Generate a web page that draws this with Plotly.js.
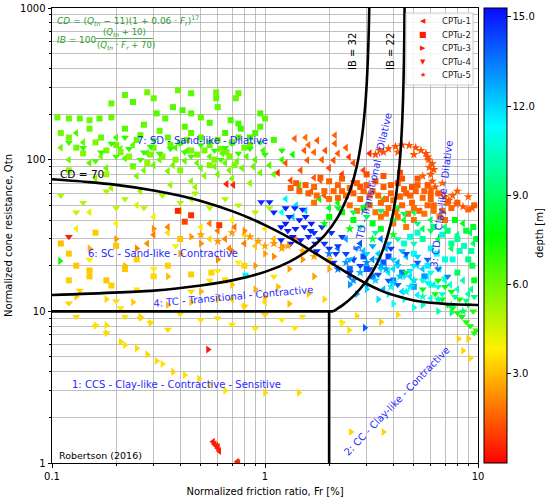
<!DOCTYPE html>
<html>
<head>
<meta charset="utf-8">
<script src="https://cdn.plot.ly/plotly-3.0.1.min.js"></script>
<style>html,body{margin:0;padding:0;background:#fff;}#chart{width:550px;height:499px;}</style>
</head>
<body>
<div id="chart"></div>
<script>
// ---------------- DATA (Fr [%], Qtn, depth [m]) ----------------
const seriesNames = ['CPTu-1', 'CPTu-2', 'CPTu-3', 'CPTu-4', 'CPTu-5'];

const cptu1 = [
  [1.38,138,1.6],[1.55,140,1.7],[1.76,134,1.5],[2.13,145,1.6],[2.13,128,1.5],[1.53,115,1.4],[1.70,112,1.5],[1.92,115,1.3],
  [1.58,99,1.4],[2.10,99,1.2],[2.48,104,1.1],[3.10,110,0.6],[1.47,85,1.3],[1.15,82,0.5],[1.32,73,1.2],[1.70,76,1.4],
  [1.82,73,1.5],[1.25,95,1.3],[2.00,88,1.2],[2.30,80,1.0],[1.65,62,1.3],[1.90,58,1.4],[2.60,72,1.2],[1.45,66,1.4],
  [2.2,110,1.4],[2.6,95,1.3],[2.9,85,1.2],[1.6,125,1.6],[1.85,100,1.4],[2.4,120,1.5],
  [0.57,1.38,0.4],[0.58,1.33,0.4],[0.59,1.30,0.5],[0.60,1.25,0.5],[0.61,1.20,0.5],[0.60,1.28,0.45],[0.74,1.02,0.6],[0.75,1.00,0.6],
  [0.66,69,0.5],[0.71,68,0.6],
  [0.15,95,6.2],[0.18,88,6.0],[0.22,102,6.3],[0.25,78,5.8],[0.28,110,6.4],[0.30,92,6.1],[0.35,84,5.9],[0.38,120,6.5],
  [0.42,98,6.2],[0.45,72,5.6],[0.50,88,6.0],[0.55,105,6.3],[0.60,80,5.9],[0.65,95,6.1],[0.70,75,5.7],[0.78,88,6.0],
  [0.85,70,5.5],[0.90,100,6.4],[0.95,82,5.9],[1.05,92,6.5],[1.20,100,7.0],[1.35,108,7.5],[0.13,150,6.6],[0.20,140,6.6],[0.12,100,6.0],
  [0.11,120,6.0],[0.14,130,6.2],[0.17,105,5.9],[0.21,118,6.1],[0.24,125,6.3],[0.27,85,5.7],[0.32,100,6.0],[0.37,92,5.9],
  [0.43,115,6.2],[0.48,95,6.0],[0.52,78,5.6],[0.58,90,5.9],[0.63,110,6.2],[0.68,85,5.8],[0.74,98,6.0],[0.82,105,6.3],
  [0.88,90,6.0],[0.98,115,6.6],[1.10,80,6.2],[0.16,75,5.5],[0.19,65,5.2],[0.26,62,5.3],[0.36,68,5.4],[0.47,66,5.3],
  [0.15,45,4.2],[0.20,38,3.8],[0.25,50,4.5],[0.30,42,4.0],[0.35,33,3.5],[0.40,46,4.3],[0.50,36,3.7],[0.55,30,3.3],
  [0.70,40,3.9],[0.80,32,3.4],[0.90,27,3.2],[1.00,35,3.6],[1.10,30,3.0],[0.13,35,4.0],[0.45,55,4.8],
  [0.55,38,2.0],[0.60,34,1.9],[0.65,30,2.1],[0.72,36,1.8],[0.80,28,2.0],[0.68,26,2.2],[0.30,32,2.0],[0.35,36,2.1],[0.28,28,2.3],
  [1.25,55,11.5],[1.40,50,11.8],[1.55,46,12.0],[1.20,45,11.2],[1.70,52,11.0],[1.35,42,12.3],
  [1.60,60,8.0],[1.80,55,7.8],[2.00,48,8.2],[2.20,52,7.5],[1.45,68,7.0],
  [2.2,26,13.5],[2.6,22,13.0],[3.0,20,12.5],[3.4,24,12.0],[3.8,18,11.5],[4.2,21,12.8],[4.8,17,11.8],[5.5,19,12.2],
  [6.2,15,11.0],[2.8,28,14.0],[3.5,30,13.5],[7.0,16,11.3],[8.0,14,10.5],[9.0,13,10.0],
  [2.4,30,12.8],[2.9,25,12.3],[3.2,22,13.2],[3.7,26,12.6],[4.0,19,11.8],[4.6,23,12.4],[5.2,20,11.6],[5.8,17,11.2],
  [6.6,19,11.5],[7.4,15,10.8],[8.5,16,10.2],[9.3,14,9.8],[2.5,17,13.8],[3.0,15,13.0],[3.6,14,12.5],[4.4,13.5,12.0],
  [5.2,12.8,11.5],[6.0,12.2,11.0],
  [5.5,35,8.5],[6.5,30,8.8],[7.5,26,9.0],[8.5,38,8.0],[9.5,28,9.2],[4.5,40,8.3],
  [3.0,50,8.6],[3.6,55,8.0],[4.2,48,8.4],[5.0,45,8.8],[6.0,40,9.0],[7.0,36,9.3],[8.0,32,9.5],[9.2,33,9.0],
  [1.00,11.5,3.5],[0.70,12,3.2]
];

const cptu2 = [
  [0.22,267,6.2],[0.28,278,6.0],[0.39,287,6.1],[0.45,274,6.3],[0.59,278,6.0],[0.75,274,6.2],[0.24,240,6.4],[0.19,235,6.1],
  [0.106,190,6.0],[0.12,187,6.1],[0.135,187,6.2],[0.15,182,6.0],[0.167,187,6.3],[0.19,190,6.1],[0.31,202,6.4],[0.34,187,6.2],
  [0.41,212,6.5],[0.45,202,6.3],[0.50,190,6.2],[0.37,222,6.4],[0.60,222,6.3],[0.69,182,6.5],[0.75,173,6.6],[0.30,254,6.1],
  [0.59,254,6.2],[0.73,254,6.0],[0.95,202,6.5],[1.00,187,6.3],[0.77,160,6.7],[0.27,170,6.2],[0.22,160,6.3],[0.42,165,6.4],
  [0.55,175,6.5],[0.65,150,6.6],[0.85,140,6.8],[0.12,140,5.9],[0.16,130,5.8],[0.20,125,6.0],[0.25,135,6.1],[0.30,120,5.9],
  [0.35,140,6.2],[0.40,130,6.0],[0.45,115,5.8],[0.50,140,6.3],[0.55,125,6.1],[0.62,118,5.9],[0.70,130,6.2],[0.80,120,6.0],
  [0.90,150,6.5],[1.10,135,6.6],[0.14,110,5.7],[0.18,115,5.8],[0.23,105,5.6],[0.28,95,5.5],[0.33,105,5.7],[0.38,100,5.6],
  [0.48,108,5.8],[0.58,100,5.7],[0.68,105,5.8],[0.15,160,6.0],[0.45,150,6.2],[0.32,155,6.1],
  [0.11,150,6.0],[0.13,120,5.9],[0.17,140,6.1],[0.21,112,5.8],[0.26,145,6.2],[0.29,108,5.8],[0.36,125,6.0],[0.43,135,6.1],
  [0.52,115,5.9],[0.60,135,6.2],[0.66,112,5.9],[0.75,140,6.3],[0.85,125,6.1],[0.95,165,6.5],[0.24,90,5.5],[0.40,85,5.6],
  [0.55,92,5.7],[0.72,92,5.8],[0.12,85,5.4],[0.18,80,5.3],
  [0.12,24,3.2],[0.12,16,3.3],[0.15,17,3.2],[0.18,16,3.1],[0.19,14.8,3.3],[0.15,18.6,3.2],[0.56,18,3.4],[0.45,17.5,3.3],
  [0.13,20,3.1],[0.22,19,3.2],[0.25,22,3.3],[0.30,17,3.4],[0.11,28,3.0],[0.20,27,3.2],[0.35,20,3.3],[0.65,16,3.5],
  [0.80,20,3.4],[0.40,30,3.1],[0.16,33,3.2],
  [0.39,46,0.5],[0.45,43,0.7],[0.61,37,0.8],[0.42,39,1.0],
  [1.32,65,1.5],[1.45,62,1.6],[1.60,60,1.5],[1.75,58,1.7],[1.90,62,1.6],[1.40,70,1.4],[1.55,68,1.5],[1.70,66,1.6],
  [1.82,76,1.4],[2.00,72,1.5],[2.20,68,1.6],[2.50,65,1.7],[2.30,75,1.4],[2.70,70,1.5],[2.90,62,1.6],[3.10,58,1.7],
  [3.30,72,1.4],[3.60,66,1.5],[3.90,60,1.6],[4.20,70,1.4],[4.50,64,1.5],[4.80,58,1.6],[5.10,62,1.5],[5.50,56,1.7],
  [5.80,50,1.6],[6.20,46,1.7],[6.60,42,1.8],[7.00,40,1.7],[3.50,52,1.6],[3.80,48,1.7],[4.10,45,1.8],[4.40,50,1.6],
  [4.70,44,1.7],[5.00,40,1.8],[5.30,46,1.6],[4.00,38,1.8],[4.60,36,1.9],[3.30,45,1.8],[2.80,55,1.6],[2.50,50,1.7],
  [2.20,56,1.6],[3.00,80,1.2],[3.60,78,1.3],[4.30,82,1.2],[5.20,75,1.3],[5.80,68,1.4],[6.50,60,1.5],[2.00,55,1.7],
  [1.70,52,1.8],[3.50,42,1.8],[4.90,52,1.6],[6.00,55,1.5],[7.50,48,1.6],[8.00,52,1.5],[9.00,47,1.6],[9.60,50,1.5],
  [2.1,62,1.6],[2.4,58,1.7],[2.6,60,1.5],[2.8,66,1.4],[3.0,68,1.5],[3.2,62,1.6],[3.4,58,1.7],[3.7,55,1.6],
  [4.0,54,1.7],[4.3,57,1.6],[4.6,60,1.5],[4.9,66,1.4],[5.2,68,1.5],[5.6,62,1.6],[6.0,60,1.5],[3.9,68,1.4],
  [4.4,75,1.3],[3.1,50,1.8],[3.7,44,1.8],[4.2,42,1.9],[5.0,48,1.7],[5.6,44,1.8],[6.2,50,1.6],[6.8,46,1.7],
  [7.2,52,1.6],[2.7,46,1.8],[2.3,62,1.6],
  [6.8,32,10.5],[7.5,28,9.8],[8.2,25,10.2],[9.0,22,9.5],[9.4,20,8.8],[7.0,22,10.8],[6.0,26,11.0],[5.5,30,10.0],
  [8.8,34,8.5],[9.5,36,8.2],[5.0,24,11.2],[4.5,28,10.6],[8.0,18,9.0],[9.6,16,8.0],
  [5.2,33,10.5],[6.2,36,9.6],[7.2,34,9.2],[8.0,30,9.8],[8.6,27,10.4],[9.3,25,10.0],[6.4,24,11.3],[7.6,22,10.9],
  [5.8,20,11.6],[4.8,31,10.8],[9.8,30,8.6],[7.8,40,8.0],
  [0.81,17.2,11.5],
  [2.3,45,7.5],[2.6,40,7.8],[2.9,48,7.2],[3.2,38,8.0],[2.0,42,7.6],[3.5,35,8.2],
  [2.5,19,13.8],[3.2,17,13.5],[4.0,16,13.2],[5.0,14.5,12.8],[3.6,21,14.0],[2.9,23,14.2],
  [3.0,19,14.0],[4.4,18,13.6],[5.6,17,13.0],[3.8,23,14.3]
];

const cptu3 = [
  [0.21,6.3,3.5],[0.22,6.0,3.6],[0.25,5.7,3.5],[0.28,5.2,3.4],[0.31,4.7,3.5],[0.33,4.5,3.6],[0.37,4.0,3.4],[0.49,3.6,3.5],
  [0.16,8.1,3.6],[0.18,8.1,3.5],[0.18,7.2,3.4],[0.26,9.2,3.3],[0.29,8.4,3.5],[1.00,2.9,3.5],[1.44,2.9,3.5],[2.53,1.6,3.4],
  [3.60,1.6,3.4],[0.42,3.8,3.6],[0.55,3.3,3.7],[0.65,3.0,3.6],[0.13,12.5,3.3],[0.18,12,3.4],[0.24,11.5,3.2],
  [0.54,5.6,0.4],
  [0.109,21.5,7.5],
  [0.35,11,3.0],[0.45,11.5,3.2],[0.60,12,3.1],[0.80,10.8,3.3],[1.00,12.5,2.9],[1.30,11.2,3.0],[1.60,13,3.2],[1.90,12,3.4],
  [0.90,14,2.8],[0.50,13.5,2.9],
  [0.20,30,2.4],[0.25,26,2.2],[0.40,24,2.5],[0.50,28,2.3],[0.60,22,2.1],[0.70,25,2.0],[0.90,20,2.4],[1.10,23,2.2],
  [1.30,19,2.5],[1.50,22,2.3],[1.70,17,2.6],[2.00,19,2.8],[1.20,27,2.1],
  [0.30,35,2.3],[0.45,31,2.4],[0.80,34,2.2],[1.00,24,2.5],[1.40,30,2.2],[0.35,17,3.0],[0.70,15,3.1],[1.15,14.5,3.0],
  [0.15,26,2.9],[0.22,20,3.0],
  [8.1,6.6,3.3],[9.2,4.9,3.5],[9.0,6.6,3.2],[8.5,5.5,3.4],
  [2.94,7.8,14.0],[3.0,14,12.0],[3.8,13,11.5],[4.5,12,11.0],[5.5,11,10.5],[2.5,15,13.0],[6.5,10,10.0],
  [3.4,12,11.8],[4.0,11.2,11.2],[5.0,10.6,10.8],[7.5,9.8,9.5],[2.7,13,12.6],
  [2.7,9.3,3.5],[2.3,8.4,3.4],[2.48,7.5,3.6],[3.5,8.5,3.3],[4.2,9.5,3.5]
];

const cptu4 = [
  [0.96,52.6,14.8],[1.05,52.6,14.9],[1.25,48,15.0],[1.38,48,14.8],[1.50,47,14.7],[1.19,36,15.1],[1.28,34,15.0],[1.39,35,14.9],
  [1.53,36,15.0],[1.64,34,14.8],[1.32,28,15.2],[1.47,29.5,15.0],[1.19,29.5,14.9],[1.60,31,14.8],[1.70,33,14.7],[1.80,30,14.9],
  [1.45,40,15.0],[1.30,42,14.8],[1.90,28,14.6],[2.00,26,14.7],[2.20,27,14.5],[1.75,25,14.8],[2.40,24,14.4],[2.60,22,14.5],
  [2.10,21,14.6],[2.80,20,14.3],[3.10,19,14.2],[2.50,18,14.4],[3.40,17.5,14.1],[3.80,16,14.0],[4.20,15,13.8],
  [1.55,42,14.9],[1.65,38,15.0],[1.85,36,14.8],[2.05,33,14.7],[2.30,31,14.6],[1.35,31,15.1],[1.25,38,15.0],[1.10,45,14.9],
  [1.72,28,14.8],[2.15,24,14.6],
  [0.13,9.2,3.5],[0.22,9.2,3.6],[0.26,9.0,3.4],[0.29,8.4,3.5],[0.16,8.0,3.6],[0.18,7.2,3.5],[0.12,11.3,3.3],[0.135,13.7,3.4],
  [0.20,11.7,3.5],[0.21,10.5,3.6],[0.90,7.7,3.7],[1.38,7.8,3.6],[2.30,8.4,3.8],[0.60,9.0,3.5],[0.70,8.2,3.6],[1.00,9.5,3.4],
  [1.20,8.8,3.7],[0.50,8.8,3.5],[0.40,9.6,3.6],[0.35,7.6,3.5],[0.80,10.8,3.4],[1.50,9.2,3.6],[0.25,14,3.7],[0.45,13.5,3.5],
  [0.30,19,3.8],[0.55,16,3.6],[0.38,27,3.9],[0.60,18.5,3.7],[0.75,21,3.8],[1.10,17,3.6],[0.15,22,4.0],
  [0.12,31,0.5],
  [6.3,13,7.5],[6.8,12,7.6],[7.2,11,7.4],[7.6,10.5,7.5],[8.0,9.8,7.3],[8.4,9.2,7.4],[8.8,8.5,7.2],[9.2,8.0,7.3],
  [9.6,7.2,7.1],[6.0,15,7.8],[6.5,16,7.7],[7.0,14.5,7.6],[7.5,13.5,7.5],[8.2,12,7.4],[9.0,11,7.3],[9.5,10,7.2],
  [5.5,14,7.9],[5.0,16,8.0],[4.6,18,8.2],[9.8,7.5,7.1],
  [0.14,120,6.8],[0.17,112,6.7],[0.20,105,6.6],[0.23,118,6.9],[0.26,100,6.5],[0.19,128,6.9],[0.29,122,7.0],[0.32,110,6.8],
  [0.36,118,6.9],[0.42,112,6.7],[0.50,125,7.0],[0.58,115,6.8],[0.65,120,6.9],[0.75,110,6.7],[0.85,118,7.0],[0.16,98,6.4],
  [0.24,92,6.3],[0.30,135,7.1],[1.00,108,7.0],[1.20,115,7.2],
  [0.12,130,6.8],[0.22,140,7.0],[0.27,112,6.8],[0.40,128,6.9],[0.45,105,6.7],[0.55,132,7.0],[0.70,128,7.1],[0.95,130,7.2],[0.62,100,6.6],
  [0.11,58,5.0],[0.14,52,4.9],[0.18,62,5.1],[0.22,55,5.0],[0.27,48,4.8],[0.33,58,5.1],[0.40,52,5.0],[0.47,60,5.2],
  [0.55,48,4.9],[0.65,55,5.0],[0.75,50,4.9],[0.90,45,4.8],[1.05,48,5.0],[0.13,45,4.7],[0.20,48,4.8],
  [2.2,48,8.5],[2.6,45,8.8],[3.0,42,9.0],[3.5,46,9.2],[4.0,40,8.6],[4.5,44,9.0],[5.2,38,9.4],[6.0,34,9.0],
  [2.8,36,9.5],[3.3,33,9.8],[4.2,30,10.0],[5.0,28,10.2],
  [2.5,22,12.5],[3.0,24,12.0],[3.5,19,11.8],[4.0,22,12.2],[4.5,17,11.5],[5.0,20,11.8],[5.5,16,11.2],[6.0,18,11.0],
  [6.5,14.5,10.8],[7.0,16.5,10.5],[3.2,27,12.8],[3.8,28,12.6],[4.4,25,12.4],[5.2,23,12.0],
  [2.7,26,12.6],[3.4,22,12.3],[4.2,20,12.0],[4.8,18.5,11.6],[5.8,15.5,11.0],[6.8,13,10.6],[7.8,12.5,10.0],[8.8,11.8,9.6],[9.6,12.5,9.3],
  [4.6,24,14.2],[5.2,21,14.0],[5.8,22,13.8],[6.5,19,13.5],[7.2,17,13.2],[3.9,26,14.5]
];

const cptu5 = [
  [3.45,115,1.3],[3.80,118,1.2],[4.10,122,1.3],[4.40,125,1.2],[4.75,124,1.3],[5.10,120,1.2],[5.40,115,1.3],[5.70,110,1.2],
  [5.85,100,1.3],[5.90,89,1.4],[6.00,80,1.3],[6.10,72,1.4],[6.30,66,1.3],[6.70,60,1.4],[7.30,54,1.3],[7.90,51,1.4],
  [8.50,49,1.3],[9.40,48,1.4],[3.30,108,1.2],[3.60,112,1.3],[6.10,94,1.2],[6.20,86,1.3],[5.80,104,1.2],[7.00,57,1.4],
  [5.50,78,1.5],[8.00,62,1.4],[9.00,57,1.5],[4.2,112,1.4],[5.0,108,1.4],[6.0,64,1.5],[6.8,70,1.6],[7.6,58,1.5],
  [0.93,29,2.5],[1.00,27,2.6],[1.10,28,2.4],[1.20,26,2.5],[1.28,27,2.6],[0.85,31,2.4],[1.50,25,2.7],[1.70,23,2.6],
  [2.00,22,2.8],[0.70,33,2.5],[0.50,32,2.6],[0.60,29,2.4],
  [2.0,24,13.5],[2.4,21,13.0],[2.8,18,12.5],[3.3,16,12.0],[3.9,14.5,11.5],[4.6,13.5,11.0],[5.5,12.5,10.5],[6.5,12,10.2],
  [7.5,11,9.8],[8.5,10,9.2],[3.0,21,13.2],[3.7,19,12.8],[4.3,17,12.3],[5.0,16,11.8],[6.0,15,11.5],
  [2.2,19,13.6],[2.6,16,13.2],[3.5,20,12.9],[4.0,15.5,12.2],[4.8,14.5,11.6],
  [2.5,35,8.0],[3.2,30,8.5],[4.0,32,8.2],[1.9,38,7.8]
];

// Boundary lines (Fr, Qtn)
const lineCD70 = [[0.1,74.2],[0.15,71.1],[0.2,68.2],[0.3,62.7],[0.4,57.8],[0.5,53.4],[0.7,45.8],[0.85,41.1],[1.0,37.0],
  [1.2,32.5],[1.5,27.2],[1.75,23.8],[2.0,21.2],[2.5,17.5],[3.0,15.2],[3.5,13.7],[4.0,12.8],[5.0,11.8],[6.0,11.4],[7.0,11.2],[8.0,11.1],[10.0,11.0]];
const lineIB32 = [[0.1,12.8],[0.3,13.7],[0.5,14.8],[0.7,16.0],[1.0,18.2],[1.3,21.2],[1.6,25.4],[1.9,31.6],[2.2,41.9],
  [2.5,62],[2.7,91.2],[2.85,140.9],[2.95,221.4],[3.0,310],[3.04,456],[3.07,704],[3.085,969],[3.09,1107]];
const lineIB22 = [[2.09,10.0],[2.3,10.9],[2.6,12.6],[3.0,15.9],[3.3,19.7],[3.6,26.0],[3.9,38.0],[4.1,55.1],[4.3,100],
  [4.4,169],[4.45,257],[4.49,443],[4.51,692],[4.52,964],[4.525,1200]];
const lineQ10 = [[0.1,10],[2.09,10]];
const lineFr2 = [[2,1],[2,10]];

const depthTicks = [3, 6, 9, 12, 15];
const xTicks = [0.1, 1, 10];
const yTicks = [1, 10, 100, 1000];

// ---------------- STYLE ----------------
const symbols = ['triangle-left', 'square', 'triangle-right', 'triangle-down', 'star'];
const legendGlyphs = ['◀', '■', '▶', '▼', '★'];
const sizes = [7, 6, 7, 7, 7];
const allSeries = [cptu1, cptu2, cptu3, cptu4, cptu5];

const traces = [];
allSeries.forEach((s, i) => {
  traces.push({
    type: 'scatter', mode: 'markers', name: seriesNames[i], showlegend: false,
    x: s.map(p => p[0]), y: s.map(p => p[1]),
    marker: {symbol: symbols[i], size: sizes[i], color: s.map(p => p[2]), coloraxis: 'coloraxis', line: {width: 0}},
    hoverinfo: 'skip'
  });
});
function lineTrace(pts) {
  return {type: 'scatter', mode: 'lines', x: pts.map(p => p[0]), y: pts.map(p => p[1]),
    line: {color: 'black', width: 2.6, shape: 'spline', smoothing: 0.6}, showlegend: false, hoverinfo: 'skip'};
}
[lineCD70, lineIB32, lineIB22].forEach(l => traces.push(lineTrace(l)));
[lineQ10, lineFr2].forEach(l => { const t = lineTrace(l); t.line.shape = 'linear'; traces.push(t); });

function minorVals(decades) {
  const out = [];
  decades.forEach(d => { for (let k = 2; k <= 9; k++) out.push(+(k * d).toPrecision(3)); });
  return out;
}
const gridC = '#b0b0b0';
const F = 'DejaVu Sans, Arial, sans-serif';
const blue = '#2a2aff';
const green = '#2e9a2e';

function P(px, py) { return {x: (px - 52) / 426, y: 1 - (py - 8) / 455}; }
function ann(text, px, py, opts) {
  const p = P(px, py);
  return Object.assign({xref: 'paper', yref: 'paper', x: p.x, y: p.y, text: text, showarrow: false,
    xanchor: 'center', yanchor: 'middle', font: {family: F, size: 10, color: blue}}, opts || {});
}

const annotations = [
  ann('CD = 70', 82, 174, {font: {family: F, size: 10.5, color: 'black'}}),
  ann('IB = 32', 353, 52, {textangle: -90, font: {family: F, size: 10, color: 'black'}}),
  ann('IB = 22', 391, 52, {textangle: -90, font: {family: F, size: 10, color: 'black'}}),
  ann('7: SD - Sand-like - Dilative', 202, 140),
  ann('6: SC - Sand-like - Contractive', 163, 253),
  ann('4: TC - Transitional - Contractive', 233, 296, {textangle: -5}),
  ann('1: CCS - Clay-like - Contractive - Sensitive', 176, 384),
  ann('2: CC - Clay-like - Contractive', 396, 401, {textangle: -46}),
  ann('5: TD - Transitional - Dilative', 372, 182, {textangle: -77}),
  ann('3: CD - Clay-like - Dilative', 441, 204, {textangle: -83}),
  ann('Robertson (2016)', 57, 455, {xanchor: 'left', font: {family: F, size: 9.5, color: 'black'}}),
  ann('<i>CD</i> = (<i>Q</i><sub><i>tn</i></sub> − 11)(1 + 0.06 · <i>F</i><sub><i>r</i></sub>)<sup>17</sup>', 55, 20,
      {xanchor: 'left', font: {family: F, size: 9, color: green}}),
  ann('<i>IB</i> = 100', 55, 40, {xanchor: 'left', font: {family: F, size: 9, color: green}}),
  ann('(<i>Q</i><sub><i>tn</i></sub> + 10)', 124, 32, {font: {family: F, size: 8.5, color: green}}),
  ann('(<i>Q</i><sub><i>tn</i></sub> · <i>F</i><sub><i>r</i></sub> + 70)', 126, 45.5, {font: {family: F, size: 8.5, color: green}}),
  ann('depth [m]', 539, 233, {textangle: -90, font: {family: F, size: 10, color: 'black'}})
];
// legend (drawn as a framed box with symbol glyphs and labels)
const legendRows = [21, 34.5, 48, 61.5, 75];
seriesNames.forEach((n, i) => {
  annotations.push(ann(legendGlyphs[i], 423, legendRows[i], {font: {family: F, size: i === 1 ? 8 : 7, color: '#ff1a00'}}));
  annotations.push(ann(n, 440, legendRows[i], {xanchor: 'left', font: {family: F, size: 8.5, color: '#222'}}));
});
const fl0 = P(96, 38.5), fl1 = P(153, 38.5);
const lb0 = P(406, 13), lb1 = P(473, 85);

const layout = {
  width: 550, height: 499,
  margin: {l: 52, r: 72, t: 8, b: 36},
  paper_bgcolor: 'white', plot_bgcolor: 'white',
  font: {family: F, size: 10, color: 'black'},
  showlegend: false,
  xaxis: {
    type: 'log', range: [-1, 1], tickvals: xTicks, ticktext: xTicks.map(String),
    ticks: 'outside', ticklen: 3.5, tickcolor: 'black', tickfont: {size: 10},
    showgrid: true, gridcolor: gridC, gridwidth: 0.8,
    minor: {tickvals: minorVals([0.1, 1]), showgrid: true, gridcolor: gridC, gridwidth: 0.8, ticks: 'outside', ticklen: 2, tickcolor: 'black'},
    showline: true, mirror: true, linecolor: 'black', linewidth: 1, zeroline: false,
    title: {text: 'Normalized friction ratio, Fr [%]', font: {size: 10}, standoff: 7}
  },
  yaxis: {
    type: 'log', range: [0, 3], tickvals: yTicks, ticktext: yTicks.map(String),
    ticks: 'outside', ticklen: 3.5, tickcolor: 'black', tickfont: {size: 10},
    showgrid: true, gridcolor: gridC, gridwidth: 0.8,
    minor: {tickvals: minorVals([1, 10, 100]), showgrid: true, gridcolor: gridC, gridwidth: 0.8, ticks: 'outside', ticklen: 2, tickcolor: 'black'},
    showline: true, mirror: true, linecolor: 'black', linewidth: 1, zeroline: false,
    title: {text: 'Normalized cone resistance, Qtn', font: {size: 10}, standoff: 5}
  },
  coloraxis: {
    cmin: 0, cmax: 15.3,
    colorscale: [[0, 'rgb(255,0,0)'], [0.25, 'rgb(255,240,0)'], [0.5, 'rgb(0,255,0)'], [0.74, 'rgb(0,255,255)'], [1, 'rgb(10,10,255)']],
    colorbar: {
      x: 1, xanchor: 'left', xpad: 6, y: 0.5, yanchor: 'middle', len: 1, ypad: 0, thickness: 23,
      outlinewidth: 1, outlinecolor: 'black',
      tickvals: depthTicks, ticktext: depthTicks.map(v => v.toFixed(1)),
      ticks: 'outside', ticklen: 3.5, tickcolor: 'black', tickfont: {size: 10}
    }
  },
  annotations: annotations,
  shapes: [
    {type: 'line', xref: 'paper', yref: 'paper', x0: fl0.x, x1: fl1.x, y0: fl0.y, y1: fl1.y, line: {color: green, width: 0.8}},
    {type: 'rect', xref: 'paper', yref: 'paper', layer: 'above', x0: lb0.x, x1: lb1.x, y0: lb0.y, y1: lb1.y,
     fillcolor: 'rgba(255,255,255,0.85)', line: {color: '#cccccc', width: 1}}
  ]
};

Plotly.newPlot('chart', traces, layout, {displayModeBar: false, staticPlot: true});
</script>
</body>
</html>
